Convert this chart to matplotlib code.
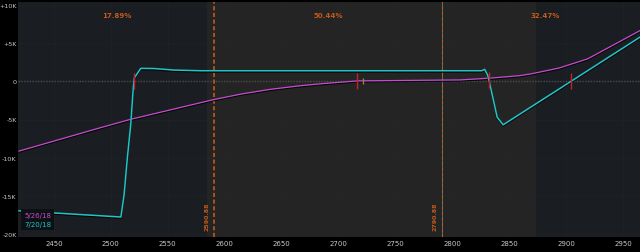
import matplotlib
matplotlib.use('Agg')
import matplotlib.pyplot as plt
import matplotlib.patheffects as pe
from matplotlib.ticker import FuncFormatter

# ── colours ──
FIG_BG = '#000000'
DARK_ZONE = '#1a1d21'
MID_ZONE = '#242424'
CYAN = '#22c4c8'
MAGENTA = '#c54bd0'
ORANGE = '#c25a1c'
RED = '#c8202a'
TICK = '#c8c8c8'

# ── data ──
price_jul = [2419.3, 2508.8, 2511.6, 2514.6, 2517.5, 2519.7, 2520.6, 2526.3,
             2537.7, 2555.3, 2579.0, 2826.0, 2828.5, 2831.0, 2832.5, 2839.5,
             2844.7, 2904.4, 2965.0]
pnl_jul = [-16.97, -17.78, -14.9, -9.87, -5.6, -0.84, 0.45, 1.70,
           1.68, 1.48, 1.39, 1.39, 1.57, 0.84, 0.0, -4.71,
           -5.70, 0.0, 5.8]

price_may = [2419.3, 2488.6, 2517.5, 2590.4, 2615.0, 2640.0, 2665.0, 2684.2,
             2716.7, 2807.0, 2832.5, 2859.6, 2870.0, 2894.0, 2919.0, 2947.0,
             2965.0]
pnl_may = [-9.14, -6.17, -4.97, -2.39, -1.65, -1.05, -0.6, -0.32,
           0.06, 0.19, 0.41, 0.75, 1.0, 1.75, 2.95, 5.2,
           6.65]

zone_edges = [2418.4, 2584.2, 2872.8, 2965.0]
zone_probs = ['17.89%', '50.44%', '32.47%']
zone_label_x = [2505.3, 2691.2, 2882.0]

price_lines = [2590.88, 2790.88]
price_line_labels = ['2590.88', '2790.88']

red_marks_x = [2520.2, 2716.7, 2832.5, 2904.4]
red_marks_y = [0.0, 0.0, 0.2, 0.0]
olive_mark_x = [2722.0]
olive_mark_y = [0.0]

x_ticks = [2450, 2500, 2550, 2600, 2650, 2700, 2750, 2800, 2850, 2900, 2950]
y_ticks = [10, 5, 0, -5, -10, -15, -20]

fig = plt.figure(figsize=(6.4, 2.53), dpi=100, facecolor=FIG_BG)
ax = fig.add_axes([18 / 640, 15 / 253, 622 / 640, 235 / 253])
ax.set_facecolor(DARK_ZONE)
ax.set_xlim(zone_edges[0], zone_edges[-1])
ax.set_ylim(-20.4, 10.4)

# probability zones
ax.axvspan(zone_edges[1], zone_edges[2], color=MID_ZONE, zorder=0)
for lx, txt in zip(zone_label_x, zone_probs):
    ax.text(lx, 0.946, txt, transform=ax.get_xaxis_transform(), color=ORANGE,
            fontsize=5, fontweight='bold', ha='center', va='center')

# grid + zero line
ax.grid(True, color='#2a2a2a', lw=0.5, ls=':')
ax.axhline(0, color='#555555', lw=1.0, ls=(0, (1, 1)), zorder=1)

# price lines
ax.axvline(price_lines[0], color=ORANGE, lw=1.2, ls=(0, (2.5, 1.5)), zorder=2)
ax.axvline(price_lines[1], color='#3a8a90', lw=0.6, zorder=2)
ax.axvline(price_lines[1], color=ORANGE, lw=0.8, ls=(0, (3, 2)), zorder=2)
for px, lab in zip(price_lines, price_line_labels):
    ax.text(px - 6, 0.03, lab, transform=ax.get_xaxis_transform(), rotation=90,
            color=ORANGE, fontsize=4.5, fontweight='bold', ha='center', va='bottom')

shadow = [pe.SimpleLineShadow(offset=(0, -0.8), shadow_color='black', alpha=0.9), pe.Normal()]
l_may, = ax.plot(price_may, pnl_may, color=MAGENTA, lw=0.9, zorder=3,
                 label='5/26/18', path_effects=shadow)
l_jul, = ax.plot(price_jul, pnl_jul, color=CYAN, lw=1.1, zorder=4,
                 label='7/20/18', path_effects=shadow)

ax.plot(red_marks_x, red_marks_y, ls='none', marker='|', color=RED,
        markersize=11, mew=1.0, zorder=5)
ax.plot(olive_mark_x, olive_mark_y, ls='none', marker='|', color='#8a8a3a',
        markersize=5, mew=1.0, zorder=5)

leg = ax.legend(handles=[l_may, l_jul], loc='lower left', handlelength=0,
                handletextpad=0, labelcolor='linecolor', fontsize=5,
                frameon=True, borderpad=0.4, labelspacing=0.5,
                bbox_to_anchor=(0.0, 0.015))
leg.get_frame().set_facecolor('#0e1114')
leg.get_frame().set_edgecolor('none')
leg.get_frame().set_alpha(1.0)
leg.get_frame().set_boxstyle('square', pad=0)

# axes styling
ax.set_xticks(x_ticks)
ax.set_yticks(y_ticks)
ax.yaxis.set_major_formatter(FuncFormatter(
    lambda v, p: '0' if v == 0 else ('+%dK' % v if v > 0 else '-%dK' % abs(v))))
ax.tick_params(colors=TICK, labelsize=5, length=0, pad=2)
ax.tick_params(axis='y', labelsize=4.6, pad=1)
for s in ax.spines.values():
    s.set_visible(False)

fig.savefig('out.png', dpi=100, facecolor=FIG_BG)
